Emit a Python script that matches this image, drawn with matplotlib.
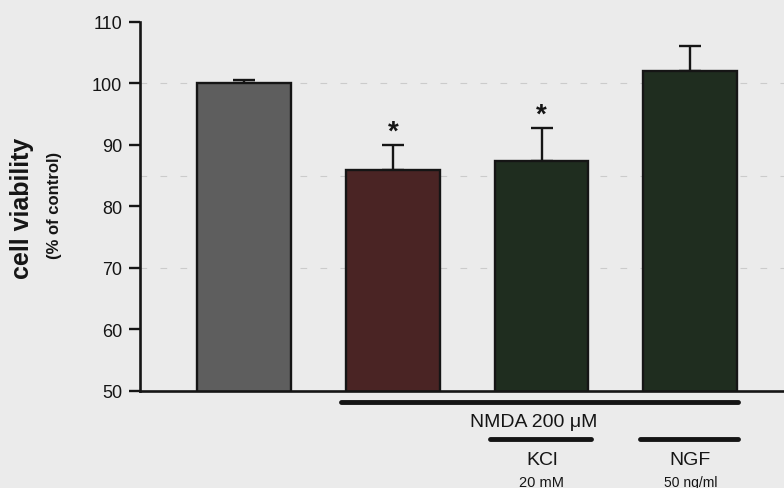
import matplotlib
matplotlib.use('Agg')
import matplotlib.pyplot as plt
import matplotlib.transforms as mtransforms

# data
groups = ['control', 'NMDA', 'NMDA + KCl', 'NMDA + NGF']
viability = [100.0, 86.0, 87.4, 102.1]
sem = [0.5, 4.0, 5.4, 4.0]
significant = [False, True, True, False]
bar_colors = ['#5e5e5e', '#4a2424', '#1f2d1f', '#1f2d1f']
yticks = [50, 60, 70, 80, 90, 100, 110]

plt.rcParams['font.family'] = ['Liberation Sans', 'DejaVu Sans']
bg = '#ebebeb'
ink = '#151515'

fig = plt.figure(figsize=(7.84, 4.89), dpi=100, facecolor=bg)
ax = fig.add_axes([0.1786, 0.1984, 0.8214, 0.7546], facecolor=bg)

x = list(range(len(groups)))

# faint dashed lines in the background
for lvl in [100, 85, 70]:
    ax.axhline(lvl, color='#cbcbcb', lw=0.8, ls=(0, (6, 12)), zorder=0)

# bars with upper error bars only
ax.bar(x, viability, width=0.63, bottom=0, color=bar_colors,
       edgecolor=ink, linewidth=1.7, zorder=2)
ax.errorbar(x, viability, yerr=[[0] * len(sem), sem], fmt='none',
            ecolor=ink, elinewidth=1.7, capsize=8, capthick=1.7, zorder=1)

# asterisks over significant bars
for xi, v, e, s in zip(x, viability, sem, significant):
    if s:
        ax.text(xi, v + e + 1.05, '*', ha='center', va='baseline',
                fontsize=20, fontweight='bold', color=ink)

ax.set_ylim(50, 110)
ax.set_xlim(-0.70, 3.63)
ax.set_yticks(yticks)
ax.set_yticklabels([str(t) for t in yticks], fontsize=13, color=ink)
ax.set_xticks([])
ax.tick_params(axis='y', length=8, width=1.7, color=ink, pad=5)

for side in ['top', 'right']:
    ax.spines[side].set_visible(False)
for side in ['left', 'bottom']:
    ax.spines[side].set_linewidth(1.9)
    ax.spines[side].set_color(ink)

# y axis labels
fig.text(0.028, 0.574, 'cell viability', rotation=90, ha='center', va='center',
         fontsize=18, fontweight='bold', color=ink)
fig.text(0.069, 0.58, '(% of control)', rotation=90, ha='center', va='center',
         fontsize=12, fontweight='bold', color=ink)

# treatment bars under the x axis
trans = mtransforms.blended_transform_factory(ax.transData, ax.transAxes)
for x0, x1, yl in [(0.65, 3.32, -0.030), (1.65, 2.33, -0.130), (2.66, 3.32, -0.130)]:
    ax.plot([x0, x1], [yl, yl], transform=trans, color=ink,
            lw=3.5, solid_capstyle='round', clip_on=False)

ax.text(1.95, -0.084, 'NMDA 200 \u03bcM', transform=trans, ha='center', va='center',
        fontsize=14, color=ink)
ax.text(2.0, -0.187, 'KCl', transform=trans, ha='center', va='center',
        fontsize=14, color=ink)
ax.text(2.0, -0.247, '20 mM', transform=trans, ha='center', va='center',
        fontsize=10.5, color=ink)
ax.text(3.0, -0.187, 'NGF', transform=trans, ha='center', va='center',
        fontsize=14, color=ink)
ax.text(3.0, -0.247, '50 ng/ml', transform=trans, ha='center', va='center',
        fontsize=10, color=ink)

fig.savefig('out.png', dpi=100, facecolor=bg)
